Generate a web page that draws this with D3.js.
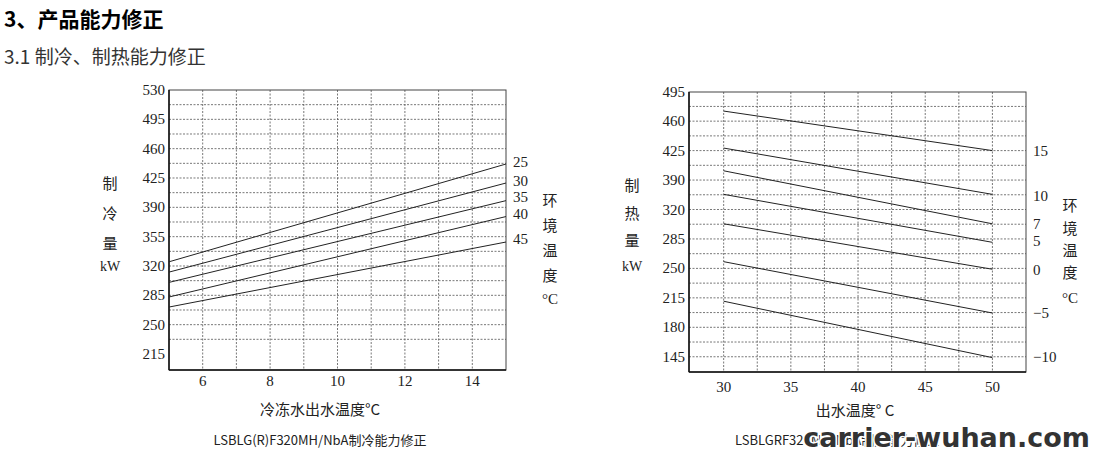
<!DOCTYPE html>
<html><head><meta charset="utf-8">
<script src="https://cdn.jsdelivr.net/npm/d3@7"></script>
<style>body{margin:0;background:#fff}</style></head>
<body><svg id="c" width="1101" height="457"></svg>
<script>
// Cooling chart data
const coolX = [5, 15];
const coolSeries = ["25","30","35","40","45"];
const coolStart = [325, 312.7, 300.4, 283, 271];
const coolEnd = [441.7, 419, 398, 379, 348.6];
const coolYTicks = [530,495,460,425,390,355,320,285,250,215];
const coolXTicks = [6,8,10,12,14];
// Heating chart data
const heatX = [30, 50];
const heatSeries = ["15","10","7","5","0","−5","−10"];
const heatStart = [472, 428, 401, 356, 303, 258, 211];
const heatEnd = [425, 356, 303, 281, 249, 197, 144];
const heatYTicks = [495,460,425,390,320,285,250,215,180,145];
const heatXTicks = [30,35,40,45,50];

const svg = d3.select("#c");
const serif = "'Liberation Serif','DejaVu Serif',serif";
const cjk = "'Noto Sans CJK SC',sans-serif";

svg.append("text").attr("x",4).attr("y",27).attr("font-family",cjk).attr("font-weight","bold").attr("font-size",21).text("3、产品能力修正");
svg.append("text").attr("x",4).attr("y",64).attr("font-family",cjk).attr("font-size",19).attr("fill","#333").text("3.1 制冷、制热能力修正");

function chart(o){
  const g = svg.append("g");
  const x = d3.scaleLinear().domain(o.xd).range([o.l,o.r]);
  const y = d3.scaleLinear().domain(o.yd).range(o.yr);
  o.hgrid.forEach(v=>g.append("line").attr("x1",o.l).attr("x2",o.r).attr("y1",y(v)).attr("y2",y(v))
    .attr("stroke","#555").attr("stroke-width",0.8).attr("stroke-dasharray","2,1.5"));
  o.vgrid.forEach(v=>g.append("line").attr("x1",x(v)).attr("x2",x(v)).attr("y1",o.t).attr("y2",o.b)
    .attr("stroke","#555").attr("stroke-width",0.8).attr("stroke-dasharray","2,1.5"));
  g.append("rect").attr("x",o.l).attr("y",o.t).attr("width",o.r-o.l).attr("height",o.b-o.t)
    .attr("fill","none").attr("stroke","#444").attr("stroke-width",1);
  g.append("line").attr("x1",o.l).attr("x2",o.l).attr("y1",o.t).attr("y2",o.b).attr("stroke","#111").attr("stroke-width",1.5);
  g.append("line").attr("x1",o.l).attr("x2",o.r).attr("y1",o.b).attr("y2",o.b).attr("stroke","#111").attr("stroke-width",1.5);
  o.yt.forEach(v=>g.append("text").attr("x",o.l-4).attr("y",y(v)+5).attr("text-anchor","end")
    .attr("font-family",serif).attr("font-size",15).attr("fill","#222").text(v));
  o.xt.forEach(v=>g.append("text").attr("x",x(v)).attr("y",o.b+16).attr("text-anchor","middle")
    .attr("font-family",serif).attr("font-size",15).attr("fill","#222").text(v));
  const line = d3.line().x(d=>x(d[0])).y(d=>y(d[1]));
  o.s.forEach((n,i)=>{
    g.append("path").attr("d",line([[o.lx[0],o.st[i]],[o.lx[1],o.en[i]]])).attr("fill","none").attr("stroke","#222").attr("stroke-width",1);
  });
  o.labs.forEach((n,i)=>g.append("text").attr("x",o.labX).attr("y",o.labY[i]+5).attr("font-family",serif).attr("font-size",15).attr("fill","#222").text(n));
  o.ytitle.forEach((t,i)=>g.append("text").attr("x",o.ytx).attr("y",o.yty[i]+6).attr("text-anchor","middle")
    .attr("font-family",i==3?serif:cjk).attr("font-size",i==3?14:15).attr("fill","#222").text(t));
  ["环","境","温","度","°C"].forEach((t,i)=>g.append("text").attr("x",o.rtx).attr("y",o.rty[i]+6).attr("text-anchor","middle")
    .attr("font-family",i==4?serif:cjk).attr("font-size",15).attr("fill","#222").text(t));
  g.append("text").attr("x",o.xtx).attr("y",o.b+45).attr("text-anchor","middle").attr("font-family",cjk).attr("font-size",15).attr("fill","#222").text(o.xtitle);
  g.append("text").attr("x",o.xtx).attr("y",o.b+75).attr("text-anchor","middle").attr("font-family",cjk).attr("font-size",13).attr("fill","#222").text(o.cap);
}

chart({l:169,r:506,t:90,b:370,xd:[5,15],yd:[530,195.9],yr:[90,370],
  hgrid:d3.range(17).map(i=>530-17.5*(i+1)).filter(v=>v>197), vgrid:d3.range(6,15),
  yt:coolYTicks, xt:coolXTicks, s:coolSeries, lx:coolX, st:coolStart, en:coolEnd,
  labs:coolSeries, labX:513, labY:[162,181,197,214,239],
  ytitle:["制","冷","量","kW"], ytx:110, yty:[183,213,243,265], rtx:550, rty:[200,225,250,275,298],
  xtitle:"冷冻水出水温度°C", xtx:320, cap:"LSBLG(R)F320MH/NbA制冷能力修正"});

// heating: axis labels are evenly spaced but skip 355; use polylinear scale
const hPos = heatYTicks.map((v,i)=>91.7+i*29.45);
(function(){
  const o={l:689,r:1026,t:92,b:372};
  const g = svg.append("g");
  const x = d3.scaleLinear().domain([27.42,52.5]).range([o.l,o.r]);
  const y = d3.scaleLinear().domain(heatYTicks.slice().concat([127.5])).range(hPos.concat([372]));
  const mids=[];
  for(let i=0;i<heatYTicks.length-1;i++) mids.push((heatYTicks[i]+heatYTicks[i+1])/2);
  heatYTicks.concat(mids).filter(v=>v!==495).forEach(v=>g.append("line").attr("x1",o.l).attr("x2",o.r).attr("y1",y(v)).attr("y2",y(v))
    .attr("stroke","#555").attr("stroke-width",0.8).attr("stroke-dasharray","2,1.5"));
  d3.range(30,50.1,2.5).forEach(v=>g.append("line").attr("x1",x(v)).attr("x2",x(v)).attr("y1",o.t).attr("y2",o.b)
    .attr("stroke","#555").attr("stroke-width",0.8).attr("stroke-dasharray","2,1.5"));
  g.append("rect").attr("x",o.l).attr("y",o.t).attr("width",o.r-o.l).attr("height",o.b-o.t).attr("fill","none").attr("stroke","#444");
  g.append("line").attr("x1",o.l).attr("x2",o.l).attr("y1",o.t).attr("y2",o.b).attr("stroke","#111").attr("stroke-width",1.5);
  g.append("line").attr("x1",o.l).attr("x2",o.r).attr("y1",o.b).attr("y2",o.b).attr("stroke","#111").attr("stroke-width",1.5);
  heatYTicks.forEach(v=>g.append("text").attr("x",o.l-4).attr("y",y(v)+5).attr("text-anchor","end")
    .attr("font-family",serif).attr("font-size",15).attr("fill","#222").text(v));
  heatXTicks.forEach(v=>g.append("text").attr("x",x(v)).attr("y",o.b+20).attr("text-anchor","middle")
    .attr("font-family",serif).attr("font-size",15).attr("fill","#222").text(v));
  const line = d3.line().x(d=>x(d[0])).y(d=>y(d[1]));
  heatSeries.forEach((n,i)=>g.append("path").attr("d",line([[heatX[0],heatStart[i]],[heatX[1],heatEnd[i]]]))
    .attr("fill","none").attr("stroke","#222").attr("stroke-width",1));
  const ly=[151,196,224,241,270,313,357];
  heatSeries.forEach((n,i)=>g.append("text").attr("x",1033).attr("y",ly[i]+5).attr("font-family",serif).attr("font-size",15).attr("fill","#222").text(n));
  ["制","热","量","kW"].forEach((t,i)=>g.append("text").attr("x",632).attr("y",[185,213,240,265][i]+6).attr("text-anchor","middle")
    .attr("font-family",i==3?serif:cjk).attr("font-size",i==3?14:15).attr("fill","#222").text(t));
  ["环","境","温","度","°C"].forEach((t,i)=>g.append("text").attr("x",1070).attr("y",[205,228,250,272,297][i]+6).attr("text-anchor","middle")
    .attr("font-family",i==4?serif:cjk).attr("font-size",15).attr("fill","#222").text(t));
  g.append("text").attr("x",855).attr("y",416).attr("text-anchor","middle").attr("font-family",cjk).attr("font-size",15).attr("fill","#222").text("出水温度° C");
  g.append("text").attr("x",735).attr("y",445).attr("font-family",cjk).attr("font-size",13).attr("fill","#222").text("LSBLGRF320MH/NbA制热能力修正");
})();
svg.append("text").attr("x",1090).attr("y",447).attr("text-anchor","end").attr("font-family","'DejaVu Sans',sans-serif")
  .attr("font-weight","bold").attr("font-size",27).attr("fill","#333").attr("stroke","#fff").attr("stroke-width",3)
  .attr("paint-order","stroke").text("carrier-wuhan.com");
</script></body></html>
